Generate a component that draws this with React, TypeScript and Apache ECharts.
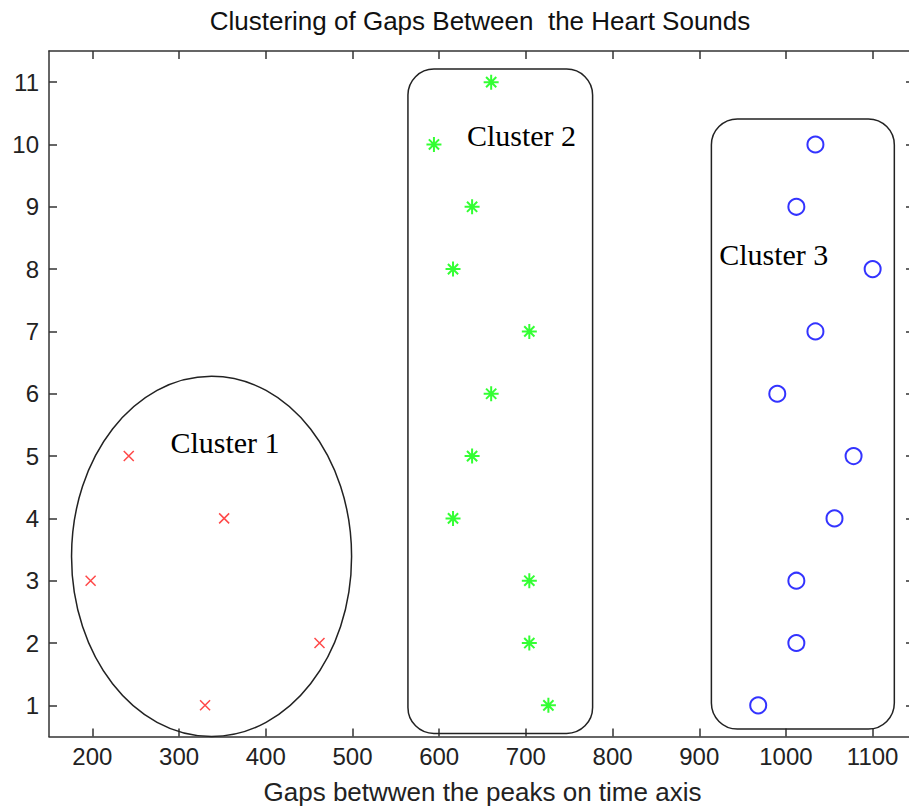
import React, { useEffect, useRef } from "react";
import * as echarts from "echarts";

// ---- data ----
const cluster1X = [242, 352, 198, 462, 330];
const cluster1Y = [5, 4, 3, 2, 1];
const cluster2X = [660, 594, 638, 616, 704, 660, 638, 616, 704, 704, 726];
const cluster2Y = [11, 10, 9, 8, 7, 6, 5, 4, 3, 2, 1];
const cluster3X = [1034, 1012, 1100, 1034, 990, 1078, 1056, 1012, 1012, 968];
const cluster3Y = [10, 9, 8, 7, 6, 5, 4, 3, 2, 1];

const xTicks = [200, 300, 400, 500, 600, 700, 800, 900, 1000, 1100];
const yTicks = [1, 2, 3, 4, 5, 6, 7, 8, 9, 10, 11];

// annotation outlines (data space)
const annoKind = ["ellipse", "rect", "rect"];
const annoX0 = [176, 564, 914];
const annoX1 = [499, 777, 1125];
const annoY0 = [0.5, 0.55, 0.62];
const annoY1 = [6.28, 11.21, 10.41];
const annoLabel = ["Cluster 1", "Cluster 2", "Cluster 3"];
const annoLabelX = [290, 632, 923];
const annoLabelY = [5.21, 10.15, 8.23];

const titleText = "Clustering of Gaps Between  the Heart Sounds";
const xName = "Gaps betwwen the peaks on time axis";

const zip = (xs: number[], ys: number[]) => xs.map((x, i) => [x, ys[i]]);

export default function App() {
  const ref = useRef<HTMLDivElement>(null);
  useEffect(() => {
    if (!ref.current) return;
    const chart = echarts.init(ref.current, undefined, { renderer: "svg" });
    const axisLineStyle = { color: "#333", width: 1.5 };
    const tickFont = {
      fontFamily: "Liberation Sans, Arial, sans-serif",
      fontSize: 24,
      color: "#222",
      formatter: (v: number) => String(v),
    };
    const annoData = annoKind.map((k, i) => [
      annoX0[i], annoX1[i], annoY0[i], annoY1[i], annoLabelX[i], annoLabelY[i], i,
    ]);
    chart.setOption({
      animation: false,
      grid: { left: 49, right: -7, top: 51, bottom: 72.5, containLabel: false, outerBoundsMode: "none" },
      graphic: [
        {
          type: "text",
          x: 480,
          y: 21,
          style: {
            text: titleText,
            align: "center",
            verticalAlign: "middle",
            fontFamily: "Liberation Sans, Arial, sans-serif",
            fontSize: 26,
            fill: "#111",
          },
        },
      ],
      xAxis: [
        {
          type: "value",
          min: 150,
          max: 1150,
          position: "bottom",
          name: xName,
          nameLocation: "middle",
          nameGap: 42,
          nameTextStyle: { fontFamily: "Liberation Sans, Arial, sans-serif", fontSize: 26, color: "#222" },
          axisLine: { show: true, onZero: false, lineStyle: axisLineStyle },
          axisTick: { show: true, inside: true, length: 8, customValues: xTicks, lineStyle: axisLineStyle },
          axisLabel: { show: true, margin: 8, customValues: xTicks, ...tickFont },
          splitLine: { show: false },
        },
        {
          type: "value",
          min: 150,
          max: 1150,
          position: "top",
          axisLine: { show: true, onZero: false, lineStyle: axisLineStyle },
          axisTick: { show: true, inside: true, length: 8, customValues: xTicks, lineStyle: axisLineStyle },
          axisLabel: { show: false },
          splitLine: { show: false },
        },
      ],
      yAxis: [
        {
          type: "value",
          min: 0.5,
          max: 11.5,
          position: "left",
          axisLine: { show: true, onZero: false, lineStyle: axisLineStyle },
          axisTick: { show: true, inside: true, length: 8, customValues: yTicks, lineStyle: axisLineStyle },
          axisLabel: { show: true, margin: 10, customValues: yTicks, ...tickFont },
          splitLine: { show: false },
        },
        {
          type: "value",
          min: 0.5,
          max: 11.5,
          position: "right",
          axisLine: { show: true, onZero: false, lineStyle: axisLineStyle },
          axisTick: { show: true, inside: true, length: 10, customValues: yTicks, lineStyle: axisLineStyle },
          axisLabel: { show: false },
          splitLine: { show: false },
        },
      ],
      series: [
        {
          type: "custom",
          silent: true,
          clip: false,
          data: annoData,
          renderItem: (params: any, api: any) => {
            const i = params.dataIndex;
            const tl = api.coord([api.value(0), api.value(3)]);
            const br = api.coord([api.value(1), api.value(2)]);
            const lp = api.coord([api.value(4), api.value(5)]);
            const stroke = { fill: "none", stroke: "#222", lineWidth: 1.5 };
            const shape =
              annoKind[i] === "ellipse"
                ? {
                    type: "ellipse",
                    shape: {
                      cx: (tl[0] + br[0]) / 2,
                      cy: (tl[1] + br[1]) / 2,
                      rx: (br[0] - tl[0]) / 2,
                      ry: (br[1] - tl[1]) / 2,
                    },
                    style: stroke,
                  }
                : {
                    type: "rect",
                    shape: { x: tl[0], y: tl[1], width: br[0] - tl[0], height: br[1] - tl[1], r: 26 },
                    style: stroke,
                  };
            return {
              type: "group",
              children: [
                shape,
                {
                  type: "text",
                  x: lp[0],
                  y: lp[1],
                  style: {
                    text: annoLabel[i],
                    align: "left",
                    verticalAlign: "middle",
                    fontFamily: "Liberation Serif, Times New Roman, serif",
                    fontSize: 30,
                    fill: "#000",
                  },
                },
              ],
            };
          },
        },
        {
          type: "scatter",
          silent: true,
          data: zip(cluster1X, cluster1Y),
          symbol: "path://M0,0L10,10M10,0L0,10",
          symbolSize: 10,
          itemStyle: { color: "transparent", borderColor: "#ff1a1a", borderWidth: 1.5 },
        },
        {
          type: "scatter",
          silent: true,
          data: zip(cluster2X, cluster2Y),
          symbol: "path://M5,0L5,10M0,5L10,5M1.6,1.6L8.4,8.4M8.4,1.6L1.6,8.4",
          symbolSize: 15,
          itemStyle: { color: "transparent", borderColor: "#00ff00", borderWidth: 2 },
        },
        {
          type: "scatter",
          silent: true,
          data: zip(cluster3X, cluster3Y),
          symbol: "circle",
          symbolSize: 16,
          itemStyle: { color: "transparent", borderColor: "#0000ff", borderWidth: 2 },
        },
      ],
    });
    return () => chart.dispose();
  }, []);
  return (
    <div
      ref={ref}
      style={{ position: "absolute", left: 0, top: 0, width: 909, height: 809, background: "#fff" }}
    />
  );
}
